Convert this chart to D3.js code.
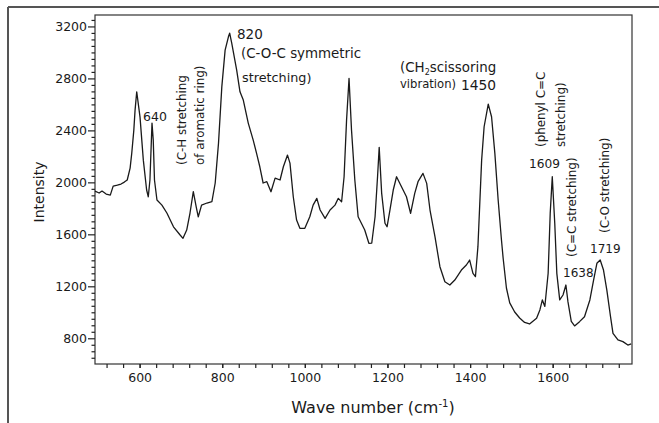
<!DOCTYPE html>
<html>
<head>
<meta charset="utf-8">
<script src="https://cdn.jsdelivr.net/npm/d3@7"></script>
<style>
  body { margin: 0; background: #fff; }
  text { font-family: "DejaVu Sans", sans-serif; fill: #1a1a1a; }
</style>
</head>
<body>
<div id="chart"></div>
<script>
// ---------------------- spectrum ----------------------
var waveNumber = [492,502,509,519,529,536,546,555,563,570,577,581,
  586,589,593,601,609,617,621,625,630,633,636,
  642,654,666,682,698,705,714,722,730,737,
  742,750,763,775,783,791,799,807,815,818,
  823,835,843,851,863,875,883,891,899,908,
  918,928,940,948,958,964,972,980,988,1000,
  1012,1020,1029,1037,1049,1061,1073,1081,1089,1095,
  1101,1107,1113,1121,1129,1145,1155,1162,1170,1176,
  1180,1186,1194,1199,1206,1214,1222,1234,1246,1256,
  1266,1274,1286,1295,1303,1315,1327,1339,1351,1363,
  1379,1391,1399,1407,1413,1419,1428,1434,1444,1452,
  1460,1468,1476,1480,1488,1496,1508,1520,1532,1544,
  1561,1569,1575,1581,1589,1594,1599,1605,1610,1617,
  1625,1632,1637,1645,1653,1665,1677,1690,1699,1707,
  1715,1723,1731,1740,1746,1758,1770,1782,1790];

var intensity = [1933,1918,1933,1910,1902,1971,1979,1987,2002,2018,2110,2225,
  2402,2556,2697,2502,2171,1941,1889,2018,2456,2325,2018,
  1864,1825,1764,1658,1595,1569,1633,1764,1928,1812,
  1735,1825,1841,1851,1995,2302,2735,3018,3120,3148,
  3071,2864,2697,2633,2456,2325,2225,2120,1995,2005,
  1928,2033,2018,2120,2210,2148,1889,1710,1646,1646,
  1735,1825,1877,1787,1723,1787,1825,1877,1851,2043,
  2479,2800,2402,2018,1735,1633,1531,1533,1735,2043,
  2269,1915,1685,1658,1787,1941,2043,1966,1889,1762,
  1915,2005,2069,1992,1787,1582,1351,1235,1210,1248,
  1325,1364,1402,1300,1274,1505,2171,2428,2602,2505,
  2223,1864,1556,1418,1187,1072,1002,956,922,910,
  954,1018,1095,1045,1300,1762,2043,1685,1300,1095,
  1133,1210,1080,930,895,928,966,1095,1248,1377,
  1402,1325,1172,966,838,787,774,748,756];

var xTickLabels = [600, 800, 1000, 1200, 1400, 1600];
var yTickLabels = [800, 1200, 1600, 2000, 2400, 2800, 3200];

// horizontal notes, placed in px
var notesFlat = [
  {t: "640", x: 143, y: 121, s: 12.5},
  {t: "820", x: 237, y: 39, s: 13.5},
  {t: "(C-O-C symmetric", x: 241, y: 58, s: 13.4},
  {t: "stretching)", x: 242, y: 82, s: 12.8},
  {t: "vibration)", x: 400, y: 88, s: 11.6},
  {t: "1450", x: 461, y: 90, s: 13.8},
  {t: "1609", x: 529, y: 168, s: 12.2},
  {t: "1719", x: 590, y: 253, s: 12},
  {t: "1638", x: 563, y: 277, s: 12}
];
// rotated notes (read bottom to top)
var notesUp = [
  {t: "(C-H stretching", x: 186, y: 165},
  {t: "of aromatic ring)", x: 204, y: 165},
  {t: "(phenyl C=C", x: 545, y: 147},
  {t: "stretching)", x: 565, y: 147},
  {t: "(C=C stretching)", x: 576, y: 257},
  {t: "(C-O stretching)", x: 609, y: 233}
];

// ---------------------- draw ----------------------
var svg = d3.select("#chart")
     .append("svg")
     .attr("width", 659)
     .attr("height", 423);

svg.append("rect").attr("width", 659).attr("height", 423).attr("fill", "#fff");

// frame of the scanned figure (top and left only)
svg.append("line").attr("x1", 8).attr("x2", 659).attr("y1", 7).attr("y2", 7)
     .attr("stroke", "#555").attr("stroke-width", 2);
svg.append("line").attr("x1", 8).attr("x2", 8).attr("y1", 7).attr("y2", 423)
     .attr("stroke", "#555").attr("stroke-width", 2);

var x = d3.scaleLinear().domain([492, 1792]).range([95, 632]);
var y = d3.scaleLinear().domain([602, 3288]).range([364, 15]);

// plot box
svg.append("rect")
     .attr("x", 95).attr("y", 15)
     .attr("width", 537).attr("height", 349)
     .attr("fill", "none")
     .attr("stroke", "#333")
     .attr("stroke-width", 1.2);

// x axis
var xMinor = d3.range(520, 1761, 40);
svg.append("g")
     .attr("transform", "translate(0,364)")
     .call(d3.axisBottom(x).tickValues(xMinor).tickSize(4).tickFormat(""))
     .call(function(g) { g.select(".domain").remove(); });
svg.append("g")
     .attr("transform", "translate(0,364)")
     .call(d3.axisBottom(x).tickValues(xTickLabels).tickSize(4).tickPadding(5).tickFormat(d3.format("d")))
     .call(function(g) { g.select(".domain").remove(); })
     .selectAll("text").style("font-size", "12.5px");

// y axis
var yMinor = d3.range(650, 3288, 50).filter(function(v) { return v % 400 != 0; });
svg.append("g")
     .attr("transform", "translate(95,0)")
     .call(d3.axisLeft(y).tickValues(yMinor).tickSize(3.5).tickFormat(""))
     .call(function(g) { g.select(".domain").remove(); });
svg.append("g")
     .attr("transform", "translate(95,0)")
     .call(d3.axisLeft(y).tickValues(yTickLabels).tickSize(7).tickPadding(1).tickFormat(d3.format("d")))
     .call(function(g) { g.select(".domain").remove(); })
     .selectAll("text").style("font-size", "12.5px");

svg.selectAll(".tick line").attr("stroke", "#222").attr("stroke-width", 1.2);

// spectrum
var line = d3.line()
     .x(function(d, i) { return x(waveNumber[i]); })
     .y(function(d) { return y(d); });

svg.append("path")
     .datum(intensity)
     .attr("d", line)
     .attr("fill", "none")
     .attr("stroke", "#1a1a1a")
     .attr("stroke-width", 1.3)
     .attr("stroke-linejoin", "round");

// axis titles
svg.append("text")
     .attr("transform", "translate(44,192) rotate(-90)")
     .attr("text-anchor", "middle")
     .style("font-size", "14px")
     .text("Intensity");

var xt = svg.append("text")
     .attr("x", 373).attr("y", 413)
     .attr("text-anchor", "middle")
     .style("font-size", "16px");
xt.append("tspan").text("Wave number (cm");
xt.append("tspan").attr("dy", -6).style("font-size", "10px").text("-1");
xt.append("tspan").attr("dy", 6).text(")");

// notes
svg.selectAll("text.flat")
     .data(notesFlat)
     .enter()
     .append("text")
     .attr("class", "flat")
     .attr("x", function(d) { return d.x; })
     .attr("y", function(d) { return d.y; })
     .style("font-size", function(d) { return d.s + "px"; })
     .text(function(d) { return d.t; });

var ch2 = svg.append("text").attr("x", 400).attr("y", 72).style("font-size", "13.4px");
ch2.append("tspan").text("(CH");
ch2.append("tspan").attr("dy", 3).style("font-size", "8px").text("2");
ch2.append("tspan").attr("dy", -3).text("scissoring");

svg.selectAll("text.up")
     .data(notesUp)
     .enter()
     .append("text")
     .attr("class", "up")
     .attr("transform", function(d) { return "translate(" + d.x + "," + d.y + ") rotate(-90)"; })
     .style("font-size", "11.9px")
     .text(function(d) { return d.t; });
</script>
</body>
</html>
